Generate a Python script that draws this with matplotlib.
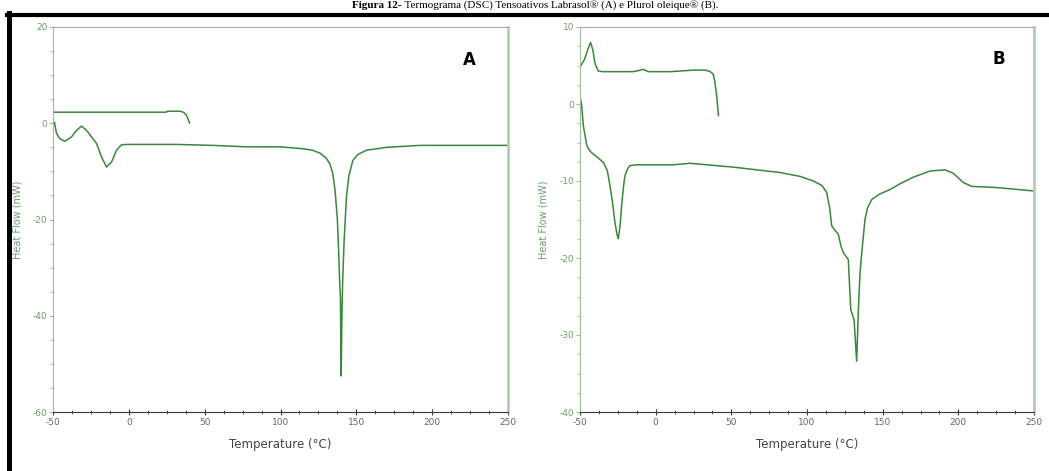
import matplotlib
matplotlib.use("Agg")
import matplotlib.pyplot as plt
from matplotlib.lines import Line2D
from matplotlib.ticker import MultipleLocator

plt.rcParams["axes.unicode_minus"] = False

# ============================
# Data
# ============================
# (A) Labrasol - cooling run
a_cool_t = [-50, 24.8, 25.2, 33.6, 36, 38, 39, 40]
a_cool_hf = [2.3, 2.3, 2.5, 2.5, 2.3, 1.7, 0.9, 0.05]

# (A) Labrasol - heating run
a_heat_t = [-50, -49, -47.7, -45.5, -42.2, -37.8, -34.5, -31.2, -27.9, -24.6,
            -21.3, -18, -14.7, -11.4, -8.1, -4.8, 0, 31.4, 55.5, 77.6, 99.5,
            115, 121, 126, 130, 132.5, 134.5, 136, 137.5, 138.5, 139, 139.5,
            140, 140.5, 141, 142, 143.5, 145, 147.7, 151, 156.7, 170, 192, 250]
a_heat_hf = [0.3, 0.2, -2.1, -3.2, -3.75, -2.85, -1.46, -0.6, -1.46, -2.85,
             -4.2, -7.0, -9.1, -8.05, -5.6, -4.45, -4.4, -4.4, -4.6, -4.9, -4.9,
             -5.3, -5.6, -6.2, -7.2, -8.4, -10.5, -14, -20, -28, -33, -36,
             -52.5, -40, -32.7, -24, -15.3, -11, -7.7, -6.5, -5.6, -5.0, -4.6, -4.6]

# (B) Plurol oleique - cooling run
b_cool_t = [-50, -47, -45, -43, -41.5, -40, -38, -35, -15, -10, -8.2, -5,
            10, 24.7, 33, 36, 38, 39, 40.3, 41.5]
b_cool_hf = [4.8, 5.8, 7.0, 8.0, 7.0, 5.2, 4.3, 4.2, 4.2, 4.4, 4.5, 4.2,
             4.2, 4.4, 4.4, 4.2, 3.9, 3.0, 1.1, -1.5]

# (B) Plurol oleique - heating run
b_heat_t = [-50, -49, -47.8, -45.5, -43.5, -41.2, -38, -34.6, -32, -30.2,
            -28.5, -26.9, -25.5, -24.7, -23.5, -22.5, -21.3, -20.3, -18.5, -17,
            -13, -8.2, 11.6, 22.7, 51.3, 82.2, 95.4, 104.2, 110, 113, 115,
            116.3, 118, 120.7, 122.5, 124, 127.3, 128.9, 131.1, 132.8, 133.9,
            135, 136.2, 138.3, 140, 142.8, 148, 154.9, 162, 170.3, 181.3,
            191.2, 196.7, 203.3, 208.9, 225.4, 250]
b_heat_hf = [1.0, 0.0, -2.8, -5.4, -6.1, -6.5, -7.0, -7.6, -8.6, -10.6,
             -12.8, -15.4, -17.0, -17.5, -15.8, -13.2, -10.8, -9.3, -8.4, -8.0,
             -7.9, -7.9, -7.9, -7.7, -8.2, -8.9, -9.4, -10.0, -10.6, -11.5, -13.5,
             -15.8, -16.3, -16.9, -18.5, -19.3, -20.2, -26.7, -28, -33.4, -27.1,
             -22, -19.3, -15, -13.5, -12.4, -11.7, -11.1, -10.3, -9.5, -8.7,
             -8.55, -9.0, -10.2, -10.7, -10.85, -11.3]

panels = [
    ("A", [(a_cool_t, a_cool_hf), (a_heat_t, a_heat_hf)], (-60, 20), 20, 5),
    ("B", [(b_cool_t, b_cool_hf), (b_heat_t, b_heat_hf)], (-40, 10), 10, 2.5),
]

W, H = 1049, 471
fig = plt.figure(figsize=(W / 100, H / 100), dpi=100)
fig.patch.set_facecolor("white")

LINE = "#3a873a"
axes_px = [(53, 508), (580, 1034)]
top_px, bot_px = 27, 412

for (name, curves, ylim, ymaj, ymin), (x0, x1) in zip(panels, axes_px):
    ax = fig.add_axes([x0 / W, 1 - bot_px / H, (x1 - x0) / W, (bot_px - top_px) / H])
    for t, hf in curves:
        ax.plot(t, hf, color=LINE, lw=1.1)
    ax.set_xlim(-50, 250)
    ax.set_ylim(*ylim)
    ax.xaxis.set_major_locator(MultipleLocator(50))
    ax.xaxis.set_minor_locator(MultipleLocator(12.5))
    ax.yaxis.set_major_locator(MultipleLocator(ymaj))
    ax.yaxis.set_minor_locator(MultipleLocator(ymin))

    ax.spines["left"].set_color("#9fbc9f")
    ax.spines["top"].set_color("#a8aaa8")
    ax.spines["bottom"].set_color("#3a3a3a")
    ax.spines["right"].set_color("#b8ccb8")
    ax.spines["right"].set_linewidth(2)

    ax.tick_params(axis="y", which="both", direction="out", colors="#9fbc9f",
                   labelcolor="#6f9a6f", labelsize=6.5, length=3, pad=1)
    ax.tick_params(axis="y", which="minor", length=2)
    ax.tick_params(axis="x", which="both", direction="inout", colors="#3a3a3a",
                   labelcolor="#666666", labelsize=6.5, length=4, pad=2)
    ax.tick_params(axis="x", which="minor", length=3)

    ax.set_ylabel("Heat Flow (mW)", color="#6f9a6f", fontsize=7)
    ax.yaxis.set_label_coords(-31 / (x1 - x0), 0.5)
    ax.set_xlabel("Temperature (°C)", color="#444444", fontsize=8.5, labelpad=8)

    lx = 469 if name == "A" else 999
    ly = 59 if name == "B" else 60
    fig.text(lx / W, 1 - ly / H, name, fontsize=12, fontweight="heavy",
             ha="center", va="center", color="black")

# black frame of the document figure
fig.add_artist(Line2D([7 / W, 1], [1 - 15 / H, 1 - 15 / H], color="black",
                      lw=3, transform=fig.transFigure))
fig.add_artist(Line2D([9 / W, 9 / W], [0, 1 - 13 / H], color="black",
                      lw=3.6, transform=fig.transFigure))

# caption above the frame
top_y = 1 - 0.5 / H
t1 = fig.text(0, top_y, "Figura 12-", fontsize=8, fontweight="bold",
              family="Liberation Serif", ha="left", va="top")
t2 = fig.text(0, top_y,
              " Termograma (DSC) Tensoativos Labrasol\u00ae (A) e Plurol oleique\u00ae (B).",
              fontsize=8, family="Liberation Serif", ha="left", va="top")
fig.canvas.draw()
w1 = t1.get_window_extent().width
w2 = t2.get_window_extent().width
start = 535 - (w1 + w2) / 2
t1.set_x(start / W)
t2.set_x((start + w1) / W)

plt.savefig("out.png", dpi=100)
